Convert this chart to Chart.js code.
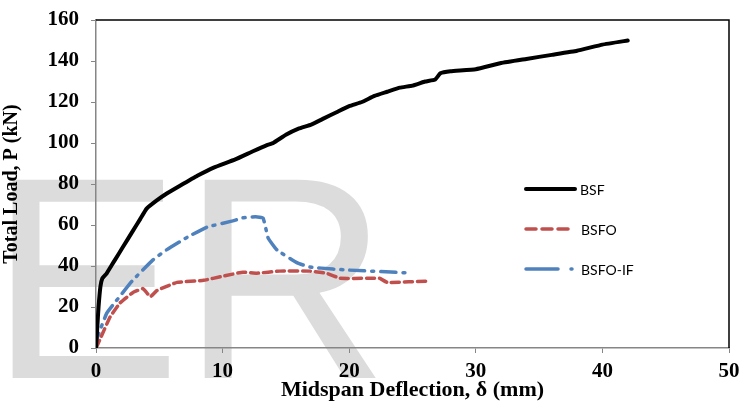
<!DOCTYPE html>
<html>
<head>
<meta charset="utf-8">
<script src="https://cdn.jsdelivr.net/npm/chart.js@4/dist/chart.umd.min.js"></script>
<style>
  html, body { margin: 0; padding: 0; background: #fff; }
  #wrap { width: 753px; height: 404px; position: relative; }
</style>
</head>
<body>
<div id="wrap"><canvas id="grafico"></canvas></div>
<script>
// valores (deflexão em mm, carga em kN)
const bsfX = [0, 0.1, 0.2, 0.35, 0.5, 0.8, 1.2, 1.5, 2.1, 2.9, 3.5, 4.0, 4.8, 5.5, 6.6, 8, 9.3, 11, 12.4, 13.5, 14, 15, 16, 17, 18, 19, 20, 21, 22, 23, 24, 25, 26, 26.8, 27.2, 28, 30, 32, 34, 36, 38, 40, 42];
const bsfY = [0, 10, 20, 30, 34, 36, 40, 43, 49, 57, 63, 68, 72, 75, 79, 84, 88, 92, 96, 99, 100, 104, 107, 109, 112, 115, 118, 120, 123, 125, 127, 128, 130, 131, 134, 135, 136, 139, 141, 143, 145, 148, 150];

const bsfoX = [0, 0.3, 1.1, 1.9, 2.9, 3.7, 4.0, 4.3, 4.8, 6.4, 8.5, 10, 11.6, 12.7, 14.5, 16.9, 18.2, 19.3, 21.4, 22.4, 23, 26.4];
const bsfoY = [0, 4, 15, 22, 27, 29, 27, 25, 28, 32, 33, 35, 37, 36.5, 37.5, 37.5, 36.5, 34, 34, 34, 32, 32.7];

const ifX = [0, 0.1, 0.85, 1.6, 2.9, 4.5, 5.6, 7.2, 8.8, 10.8, 11.6, 12.6, 13.2, 13.6, 14.3, 15.9, 16.9, 18.7, 20, 24.8];
const ifY = [0, 5, 17, 23, 33, 43, 48, 54, 59, 62, 63.5, 64, 63.4, 53.6, 47.8, 41.5, 39.5, 38.5, 38, 36.6];

const xTicks = [0, 10, 20, 30, 40, 50];
const yTicks = [0, 20, 40, 60, 80, 100, 120, 140, 160];

const series = [
  { nome: "BSF", xs: bsfX, ys: bsfY, cor: "#000000", largura: 4, dash: [], dashLeg: [] },
  { nome: "BSFO", xs: bsfoX, ys: bsfoY, cor: "#C0504D", largura: 3.5, dash: [8, 5], dashLeg: [10, 6] },
  { nome: "BSFO-IF", xs: ifX, ys: ifY, cor: "#4F81BD", largura: 3.5, dash: [15, 7, 2, 7], dashLeg: [32, 13, 1, 8] }
];

const serif = "'Liberation Serif', 'Times New Roman', serif";

// marca de água "ER" por trás do gráfico
const marcaAgua = {
  id: "marcaAgua",
  beforeDraw(chart) {
    const ctx = chart.ctx;
    ctx.save();
    ctx.fillStyle = "#fff";
    ctx.fillRect(0, 0, chart.width, chart.height);
    ctx.fillStyle = "#DCDCDC";
    ctx.font = "288px 'Liberation Sans', Arial, sans-serif";
    ctx.textBaseline = "alphabetic";
    ctx.fillText("ER", -11, 378);
    ctx.restore();
  }
};

// moldura preta em cima e à direita + legenda
const moldura = {
  id: "moldura",
  afterDraw(chart) {
    const { ctx, chartArea: a } = chart;
    ctx.save();
    ctx.strokeStyle = "#000";
    ctx.lineWidth = 1.5;
    ctx.beginPath();
    ctx.moveTo(a.left, a.top);
    ctx.lineTo(a.right, a.top);
    ctx.lineTo(a.right, a.bottom);
    ctx.stroke();

    const yLeg = [189, 229, 269];
    series.forEach((s, i) => {
      ctx.strokeStyle = s.cor;
      ctx.lineWidth = s.largura;
      ctx.lineCap = "round";
      ctx.setLineDash(s.dashLeg);
      ctx.beginPath();
      ctx.moveTo(526, yLeg[i]);
      ctx.lineTo(i === 0 ? 575 : 574, yLeg[i]);
      ctx.stroke();
      ctx.setLineDash([]);
      ctx.fillStyle = "#000";
      ctx.font = "14px Lato, 'Open Sans', sans-serif";
      ctx.textBaseline = "middle";
      ctx.fillText(s.nome, i === 0 ? 580 : 581, yLeg[i] + 1);
    });
    ctx.restore();
  }
};

const ctx = document.getElementById("grafico").getContext("2d");

new Chart(ctx, {
  type: "scatter",
  data: {
    datasets: series.map(s => ({
      label: s.nome,
      data: s.xs.map((x, i) => ({ x, y: s.ys[i] })),
      showLine: true,
      borderColor: s.cor,
      backgroundColor: s.cor,
      borderWidth: s.largura,
      borderDash: s.dash,
      borderCapStyle: "round",
      borderJoinStyle: "round",
      pointRadius: 0,
      tension: 0.1
    }))
  },
  options: {
    responsive: true,
    maintainAspectRatio: false,
    animation: false,
    layout: { padding: { top: 20, right: 24, left: 0, bottom: 0 } },
    plugins: {
      legend: { display: false },
      tooltip: { enabled: false }
    },
    scales: {
      x: {
        type: "linear",
        min: 0,
        max: 50,
        afterBuildTicks: ax => { ax.ticks = xTicks.map(v => ({ value: v })); },
        afterFit: ax => { ax.height = 56; },
        grid: { drawOnChartArea: false, drawTicks: true, tickLength: 5, color: "#868686" },
        border: { color: "#868686", width: 1.5 },
        ticks: { color: "#000", padding: 6, font: { family: serif, size: 21, weight: "bold" } },
        title: {
          display: true,
          text: "Midspan Deflection, δ (mm)",
          color: "#000",
          padding: { top: -9, bottom: 0 },
          font: { family: serif, size: 22, weight: "bold" }
        }
      },
      y: {
        type: "linear",
        min: 0,
        max: 160,
        afterBuildTicks: ax => { ax.ticks = yTicks.map(v => ({ value: v })); },
        afterFit: ax => {
          ax.width = 96;
          ax.paddingTop = 0;
          ax.paddingBottom = 0;
        },
        grid: { drawOnChartArea: false, drawTicks: true, tickLength: 5, color: "#868686" },
        border: { color: "#868686", width: 1.5 },
        ticks: { color: "#000", padding: 12, font: { family: serif, size: 21, weight: "bold" } },
        title: {
          display: true,
          text: "Total Load, P (kN)",
          color: "#000",
          padding: { top: 0, bottom: 4 },
          font: { family: serif, size: 20, weight: "bold" }
        }
      }
    }
  },
  plugins: [marcaAgua, moldura]
});
</script>
</body>
</html>
